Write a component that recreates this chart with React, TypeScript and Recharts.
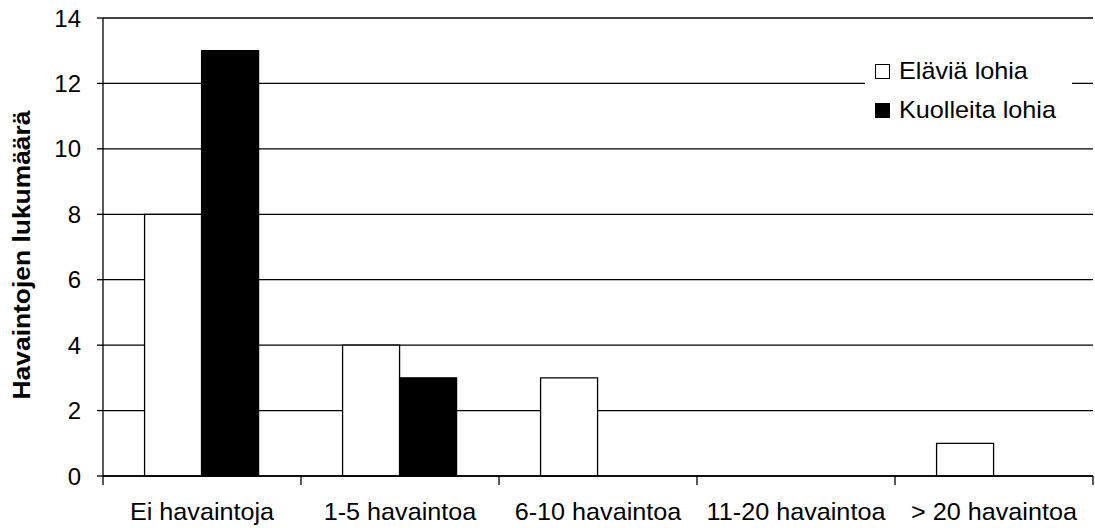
import React from 'react';
import { BarChart, Bar, XAxis, YAxis, CartesianGrid } from 'recharts';

const categories = ['Ei havaintoja', '1-5 havaintoa', '6-10 havaintoa', '11-20 havaintoa', '> 20 havaintoa'];
const elaviaLohia = [8, 4, 3, 0, 1];
const kuolleitaLohia = [13, 3, 0, 0, 0];
const yTicks = [0, 2, 4, 6, 8, 10, 12, 14];
const seriesNames = ['Eläviä lohia', 'Kuolleita lohia'];
const yAxisTitle = 'Havaintojen lukumäärä';

const data = categories.map((c, i) => ({
  category: c,
  elavia: elaviaLohia[i],
  kuolleita: kuolleitaLohia[i],
}));

const W = 1095;
const H = 528;
const MARGIN = { top: 18, right: 2, bottom: 0, left: 0 };
const Y_W = 103;
const X_H = 52;
const FONT = '"Liberation Sans", Arial, Helvetica, sans-serif';
const SX = 1.05;
const FS = 24;
const X_TICK_SIZE = 6;
const X_TICK_MARGIN = 21;

function XTick(props: any) {
  const { x, y, payload, index, visibleTicksCount } = props;
  const plotW = W - MARGIN.left - MARGIN.right - Y_W;
  const half = payload && typeof payload.offset === 'number' && payload.offset > 0 ? payload.offset : plotW / categories.length / 2;
  const axisY = y - X_TICK_SIZE - X_TICK_MARGIN;
  return (
    <g>
      {index === 0 && (
        <line x1={x - half} x2={x - half} y1={axisY} y2={axisY + 9} stroke="#000" strokeWidth={1.3} />
      )}
      <line x1={x + half} x2={x + half} y1={axisY} y2={axisY + 9} stroke="#000" strokeWidth={1.3} />
      <text
        transform={`translate(${x},${y}) scale(${SX},1)`}
        x={0}
        y={0}
        dy="0.71em"
        textAnchor="middle"
        fontFamily={FONT}
        fontSize={FS}
        fill="#000"
      >
        {payload.value}
      </text>
    </g>
  );
}

function YTick(props: any) {
  const { x, y, payload } = props;
  return (
    <text
      x={x}
      y={y}
      dy="0.355em"
      textAnchor="end"
      fontFamily={FONT}
      fontSize={FS}
      fill="#000"
    >
      {payload.value}
    </text>
  );
}

function YTitle(props: any) {
  const vb = props.viewBox || { x: 0, y: MARGIN.top, width: Y_W, height: H - MARGIN.top - X_H };
  const cx = vb.x + 30;
  const cy = vb.y + vb.height / 2 + 8;
  return (
    <text
      transform={`translate(${cx},${cy}) rotate(-90) scale(1.1,1)`}
      x={0}
      y={0}
      textAnchor="middle"
      fontFamily={FONT}
      fontSize={24}
      fontWeight="bold"
      fill="#000"
    >
      {yAxisTitle}
    </text>
  );
}

export default function App() {
  return (
    <div style={{ position: 'absolute', left: 0, top: 0, width: W, height: H, background: '#fff' }}>
      <BarChart
        width={W}
        height={H}
        data={data}
        margin={MARGIN}
        barCategoryGap="21%"
        barGap={0}
      >
        <CartesianGrid horizontal vertical={false} stroke="#000" strokeWidth={1.3} />
        <XAxis
          dataKey="category"
          height={X_H}
          axisLine={{ stroke: '#000', strokeWidth: 1.3 }}
          tickLine={false}
          tickSize={X_TICK_SIZE}
          tickMargin={X_TICK_MARGIN}
          tick={<XTick />}
          interval={0}
        />
        <YAxis
          width={Y_W}
          domain={[0, 14]}
          ticks={yTicks}
          interval={0}
          axisLine={{ stroke: '#000', strokeWidth: 1.3 }}
          tickLine={{ stroke: '#000', strokeWidth: 1.3 }}
          tickSize={6}
          tickMargin={16}
          tick={<YTick />}
          label={<YTitle />}
        />
        <Bar dataKey="elavia" name={seriesNames[0]} fill="#fff" stroke="#000" strokeWidth={1.3} isAnimationActive={false} />
        <Bar dataKey="kuolleita" name={seriesNames[1]} fill="#000" stroke="#000" strokeWidth={1.3} isAnimationActive={false} />
      </BarChart>
      <div
        style={{
          position: 'absolute',
          left: 865,
          top: 52,
          width: 207,
          height: 78,
          background: '#fff',
          fontFamily: FONT,
          fontSize: FS,
          color: '#000',
        }}
      >
        {seriesNames.map((name, i) => (
          <div key={name} style={{ height: 39, position: 'relative' }}>
            <div
              style={{
                position: 'absolute',
                left: 10,
                top: 12,
                width: 13,
                height: 13,
                background: i === 0 ? '#fff' : '#000',
                border: '1.3px solid #000',
              }}
            />
            <span
              style={{
                position: 'absolute',
                left: 34,
                top: 5,
                lineHeight: '28px',
                whiteSpace: 'nowrap',
                transform: `scaleX(${SX})`,
                transformOrigin: 'left center',
              }}
            >
              {name}
            </span>
          </div>
        ))}
      </div>
    </div>
  );
}
